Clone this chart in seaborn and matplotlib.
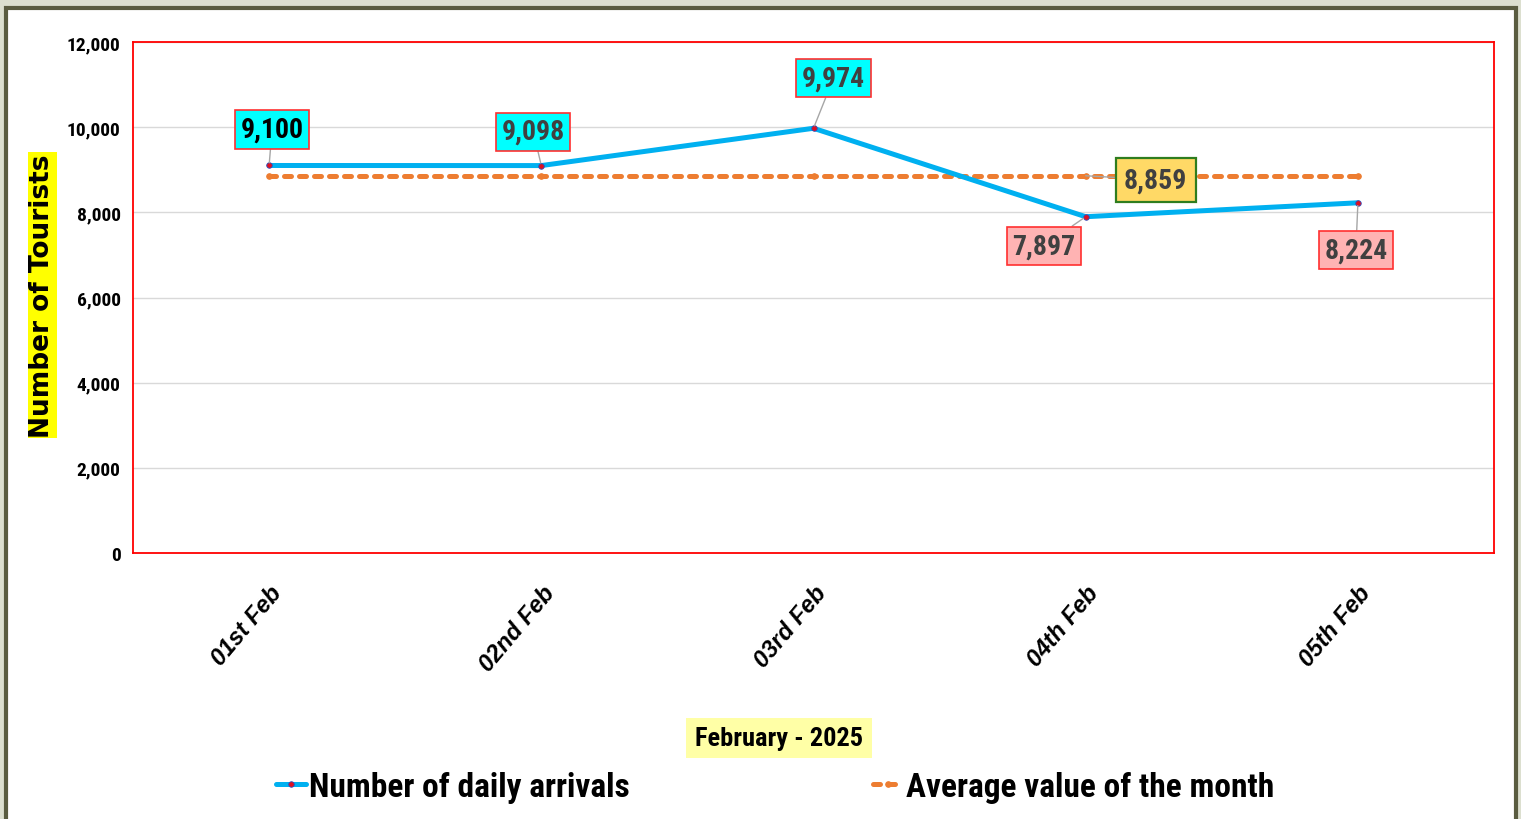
import matplotlib
matplotlib.use("Agg")
import matplotlib.pyplot as plt
import seaborn as sns
import pandas as pd
from matplotlib.patches import Rectangle
from matplotlib import font_manager as fm

days = ["01st Feb", "02nd Feb", "03rd Feb", "04th Feb", "05th Feb"]
arrivals = [9100, 9098, 9974, 7897, 8224]
average = [8859, 8859, 8859, 8859, 8859]
yticks = [0, 2000, 4000, 6000, 8000, 10000, 12000]

df = pd.DataFrame({"Day": days, "Arrivals": arrivals, "Average": average})

sns.set_style("white")
plt.rcParams["font.family"] = ["Liberation Sans", "DejaVu Sans"]
for k in ["text.color", "axes.labelcolor", "xtick.color", "ytick.color"]:
    plt.rcParams[k] = "black"

# look for a narrow bold face (Arial Narrow look-alike)
narrow_file = None
for key in ["Liberation Sans Narrow", "Roboto Condensed", "Open Sans Condensed", "Condensed", "Narrow"]:
    for f in fm.fontManager.ttflist:
        name = f.name + " " + str(f.fname)
        if key.lower() in name.lower() and f.weight in ("bold", 700, "semibold", 600):
            narrow_file = f.fname
            break
    if narrow_file:
        break
if narrow_file is None:
    for f in fm.fontManager.ttflist:
        if f.stretch in ("condensed", "semi-condensed", "extra-condensed") and f.weight in ("bold", 700):
            narrow_file = f.fname
            break


def nfont(size):
    if narrow_file:
        return fm.FontProperties(fname=narrow_file, size=size)
    return fm.FontProperties(family=["Liberation Sans", "DejaVu Sans"], weight="bold", size=size * 0.8)


fig = plt.figure(figsize=(15.21, 8.2), dpi=100)
fig.patch.set_facecolor("#dcdfcf")
# white panel with olive frame
fig.add_artist(Rectangle((6 / 1521, -0.05), 1510 / 1521, 1.05 - 9 / 820,
                         transform=fig.transFigure, facecolor="white",
                         edgecolor="#5a5c40", linewidth=3, zorder=0))

ax = fig.add_axes([133 / 1521, 1 - 554 / 820, (1494 - 133) / 1521, (554 - 43) / 820])
ax.set_facecolor("white")

sns.lineplot(data=df, x="Day", y="Arrivals", ax=ax, color="#00b0f0", linewidth=3.6,
             marker="o", markersize=4, markerfacecolor="#e0101f",
             markeredgecolor="#3050c0", markeredgewidth=0.6,
             label="Number of daily arrivals", zorder=4)
sns.lineplot(data=df, x="Day", y="Average", ax=ax, color="#ed7d31", linewidth=3.6,
             linestyle=(0, (1.4, 1.6)), dash_capstyle="round", marker="o", markersize=4,
             markerfacecolor="#ed7d31", markeredgecolor="#ed7d31",
             label="Average value of the month", zorder=3)

ax.set_xlim(-0.5, 4.5)
ax.set_ylim(0, 12000)
ax.set_yticks(yticks)
ax.set_yticklabels([f"{v:,}" for v in yticks])
for t in ax.get_yticklabels():
    t.set_fontproperties(nfont(14))
ax.grid(axis="y", color="#d9d9d9", linewidth=1)
ax.tick_params(axis="both", length=0)
ax.tick_params(axis="y", pad=9)
ax.set_xticks(range(len(days)))
ax.set_xticklabels(days, rotation=50, ha="right", rotation_mode="anchor",
                   fontsize=17, fontweight="bold", style="italic")
ax.tick_params(axis="x", pad=20)
for s in ax.spines.values():
    s.set_color("#ff0000")
    s.set_linewidth(1.3)

ax.set_ylabel("Number of Tourists", fontsize=19, fontweight="bold",
              family=["DejaVu Sans"],
              bbox=dict(facecolor="#ffff00", edgecolor="none", pad=1))
ax.yaxis.set_label_coords(-0.057, 0.505)
ax.set_xlabel("")
fig.text(779 / 1521, 1 - 739 / 820, "February - 2025", ha="center", va="center",
         fontproperties=nfont(19),
         bbox=dict(facecolor="#ffffa6", edgecolor="none", pad=6))

# data labels
offsets = [(3, 36), (-8, 34), (20, 50), (-42, -29), (-2, -47)]
faces = ["#00ffff", "#00ffff", "#00ffff", "#ffb3b3", "#ffb3b3"]
colors = ["#000000", "#404040", "#404040", "#404040", "#404040"]
for i, v in enumerate(arrivals):
    dx, dy = offsets[i]
    ax.annotate(f"{v:,}", xy=(i, v), xytext=(dx, dy), textcoords="offset pixels",
                ha="center", va="center", fontproperties=nfont(20), color=colors[i],
                bbox=dict(boxstyle="square,pad=0.2", facecolor=faces[i],
                          edgecolor="#ff3030", linewidth=1.2),
                arrowprops=dict(arrowstyle="-", color="#a6a6a6", linewidth=1,
                                shrinkA=0, shrinkB=2), zorder=6)
ax.annotate(f"{average[3]:,}", xy=(3, average[3]), xytext=(70, -4), textcoords="offset pixels",
            ha="center", va="center", fontproperties=nfont(20), color="#404040",
            bbox=dict(boxstyle="square,pad=0.3", facecolor="#ffd966",
                      edgecolor="#2e7d1e", linewidth=1.6),
            arrowprops=dict(arrowstyle="-", color="#a6a6a6", linewidth=1,
                            shrinkA=0, shrinkB=0), zorder=6)

ax.get_legend().remove()
handles, labels = ax.get_legend_handles_labels()
fig.legend(handles, labels, loc="center", bbox_to_anchor=(775 / 1521, 1 - 788 / 820),
           ncol=2, frameon=False, handlelength=0.9, handletextpad=0.08,
           columnspacing=7.3, prop=nfont(24))

fig.savefig("out.png", dpi=100, facecolor=fig.get_facecolor())
